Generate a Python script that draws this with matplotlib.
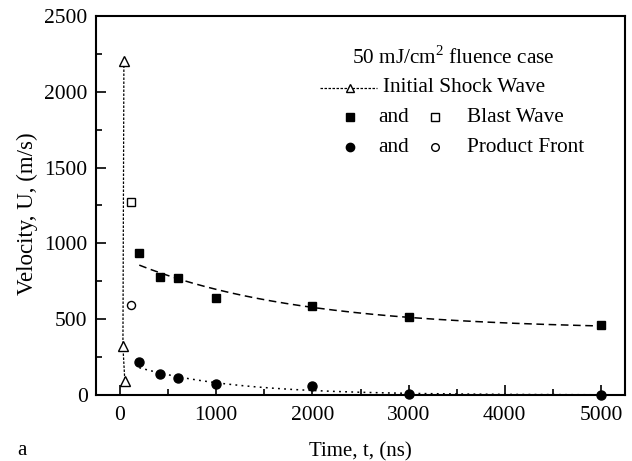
import numpy as np
import matplotlib
matplotlib.use("Agg")
import matplotlib.pyplot as plt
from matplotlib.ticker import MultipleLocator

plt.rcParams['font.family'] = ['Liberation Serif', 'DejaVu Serif']
plt.rcParams['mathtext.fontset'] = 'custom'
plt.rcParams['mathtext.rm'] = 'Liberation Serif'

# Initial shock wave
shock_t = [40, 30, 50]
shock_u = [2200, 320, 90]
# Blast wave (open = early, filled = later)
blast_open_t = [110]
blast_open_u = [1270]
blast_t = [200, 420, 600, 1000, 2000, 3000, 5000]
blast_u = [935, 778, 770, 637, 590, 516, 463]
# Product front
prod_open_t = [110]
prod_open_u = [593]
prod_t = [200, 420, 600, 1000, 2000, 3000, 5000]
prod_u = [218, 141, 112, 75, 60, 4, 3]
# fitted-curve coefficients: U = a + b*exp(-t/tau)
blast_fit = (430.0, 480.0, 1700.0)
prod_fit = (0.0, 220.0, 1000.0)

fig = plt.figure(figsize=(6.32, 4.61), dpi=100)
ax = fig.add_axes([96/632, 1-395/461, (625-96)/632, (395-16)/461])

ax.plot(shock_t, shock_u, linestyle=(0, (2, 1.2)), color='black', lw=0.9,
        marker='^', ms=6.5, mfc='white', mec='black', mew=1.0)

tt = np.linspace(min(blast_t), max(blast_t), 300)
a, b, tau = blast_fit
ax.plot(tt, a + b*np.exp(-tt/tau), color='black', lw=1.1, linestyle=(0, (5, 3)))
a, b, tau = prod_fit
ax.plot(tt, np.clip(a + b*np.exp(-tt/tau), 0, None), color='black', lw=1.1,
        linestyle=(0, (1.2, 2.8)))

ax.plot(blast_t, blast_u, 's', ms=6.3, color='black', clip_on=False)
ax.plot(blast_open_t, blast_open_u, 's', ms=5.6, mfc='white', mec='black', mew=1.0)
ax.plot(prod_t, prod_u, 'o', ms=6.5, color='black', clip_on=False, zorder=5)
ax.plot(prod_open_t, prod_open_u, 'o', ms=5.8, mfc='white', mec='black', mew=1.0)

ax.set_xlim(-250, 5250)
ax.set_ylim(0, 2500)
ax.xaxis.set_major_locator(MultipleLocator(1000))
ax.xaxis.set_minor_locator(MultipleLocator(500))
ax.yaxis.set_major_locator(MultipleLocator(500))
ax.yaxis.set_minor_locator(MultipleLocator(250))
ax.tick_params(which='both', direction='in', top=False, right=False, labelsize=15.5, width=1.2)
ax.tick_params(which='major', length=7)
ax.tick_params(which='minor', length=4)
ax.tick_params(axis='x', pad=8)
ax.tick_params(axis='y', pad=6)
for s in ax.spines.values():
    s.set_linewidth(1.5)

ax.set_xlabel('Time, t, (ns)', fontsize=15, labelpad=12.5)
ax.set_ylabel('Velocity, U, (m/s)', fontsize=16.5, va='center')
ax.yaxis.set_label_coords(-0.1304, 0.4776)
fig.text(17/632, 1-455/461, 'a', fontsize=15, ha='left', va='baseline')

# Legend block
fs = 15.3
def px(x, y):
    return x/632, 1-y/461
fig.text(*px(352, 57), r'50 mJ/cm$^2$ fluence case', fontsize=fs, ha='left', va='center')
fig.lines.append(plt.Line2D([320/632, 377/632], [1-88/461]*2, transform=fig.transFigure,
                            color='black', lw=0.9, linestyle=(0, (2, 1.2))))
fig.lines.append(plt.Line2D([350/632], [1-88/461], transform=fig.transFigure, marker='^',
                            ms=6.0, mfc='white', mec='black', mew=1.0, linestyle='none'))
fig.text(*px(383, 88), 'Initial Shock Wave', fontsize=fs, ha='left', va='center')
for y, m, lab in [(117, 's', 'Blast Wave'), (147, 'o', 'Product Front')]:
    fig.lines.append(plt.Line2D([350/632], [1-y/461], transform=fig.transFigure, marker=m,
                                ms=6.0, color='black', linestyle='none'))
    fig.text(*px(378, y), 'and', fontsize=fs, ha='left', va='center')
    fig.lines.append(plt.Line2D([435/632], [1-y/461], transform=fig.transFigure, marker=m,
                                ms=5.5, mfc='white', mec='black', mew=1.0, linestyle='none'))
    fig.text(*px(467, y), lab, fontsize=fs, ha='left', va='center')

fig.savefig('out.png', dpi=100)
